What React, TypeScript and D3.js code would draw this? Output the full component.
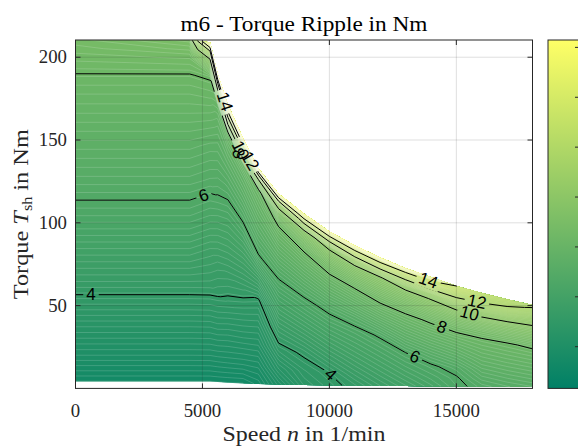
import React from 'react';
import * as d3 from 'd3';

// ---------- data ----------
// operating grid: speed columns (1/min)
const speedGrid = [0, 4500, 5300, 5600, 6000, 6600, 7200, 8000, 9000, 10000, 11000, 12000, 13000, 14000, 15000, 16000, 17000, 18000];
// maximum torque envelope (Nm) at each speed column
const maxTorque = [210.4, 210.4, 209, 190, 171.5, 151, 133, 117.5, 105.5, 94.8, 86.3, 79, 72.6, 67.3, 61.9, 57.6, 53.8, 50.4];
// torque rows as a fraction of the maximum torque
const torqueFraction = [0.02, 0.1, 0.2, 0.3, 0.4, 0.5, 0.6, 0.7, 0.8, 0.85, 0.9, 0.95, 0.975, 1.0];
// torque ripple (Nm): one row per torque fraction, one column per speed
const rippleTable = [
  [1.8, 1.8, 1.8, 1.8, 1.8, 1.8, 2.0, 2.7, 3.5, 3.85, 4.15, 4.6, 5.0, 5.4, 5.85, 6.2, 6.4, 6.55],
  [2.55, 2.55, 2.55, 2.5, 2.45, 2.4, 2.4, 3.2, 3.74, 4.01, 4.49, 4.9, 5.29, 5.63, 5.94, 6.46, 6.65, 6.8],
  [3.4, 3.4, 3.4, 3.3, 3.15, 3.05, 2.95, 3.82, 4.08, 4.53, 4.92, 5.28, 5.64, 5.91, 6.2, 6.8, 6.97, 7.1],
  [4.27, 4.27, 4.26, 4.06, 3.86, 3.64, 3.45, 4.37, 4.67, 5.05, 5.35, 5.66, 6.01, 6.39, 6.7, 7.15, 7.29, 7.41],
  [5.01, 5.01, 4.85, 4.59, 4.4, 4.22, 3.93, 4.98, 5.26, 5.58, 5.78, 6.07, 6.61, 6.94, 7.2, 7.49, 7.61, 7.72],
  [5.75, 5.75, 5.58, 5.25, 5.02, 4.88, 4.88, 5.6, 5.85, 6.15, 6.4, 6.81, 7.21, 7.5, 7.7, 7.84, 7.93, 8.1],
  [6.37, 6.37, 6.24, 5.92, 5.6, 5.54, 5.94, 6.25, 6.57, 6.92, 7.2, 7.56, 7.82, 8.1, 8.36, 8.51, 8.67, 8.83],
  [6.91, 6.91, 6.78, 6.44, 6.22, 6.25, 6.58, 6.98, 7.32, 7.69, 8.01, 8.41, 8.7, 9.05, 9.27, 9.44, 9.5, 9.56],
  [7.45, 7.45, 7.42, 6.93, 6.9, 6.95, 7.2, 7.71, 8.16, 8.8, 9.18, 9.44, 9.7, 10.03, 10.38, 10.59, 10.52, 10.39],
  [7.7, 7.7, 7.75, 7.2, 7.3, 7.3, 7.51, 8.18, 8.97, 9.47, 9.76, 9.95, 10.53, 10.9, 11.33, 11.33, 11.16, 10.82],
  [7.98, 7.98, 8.06, 7.62, 7.8, 7.85, 7.81, 9.2, 9.77, 10.3, 11.09, 11.5, 11.87, 12.31, 12.26, 12.05, 11.81, 11.34],
  [8.3, 8.4, 9.9, 10.05, 11.5, 11.4, 10.05, 10.9, 12.3, 12.73, 13.25, 13.49, 13.45, 13.85, 13.13, 12.67, 12.3, 11.86],
  [8.45, 8.7, 12.03, 12.5, 14.02, 14.05, 12.7, 13.2, 14.3, 14.45, 14.5, 14.5, 14.4, 14.25, 13.57, 12.98, 12.55, 12.05],
  [8.6, 9.0, 17.0, 17.6, 17.8, 17.8, 17.6, 17.3, 17.0, 17.3, 17.5, 17.3, 17.0, 16.0, 14.02, 13.3, 12.8, 12.4],
];

const lineLevels = [4, 6, 8, 10, 12, 14];
const colorLimits = [0.41, 17.87];
const fillLevelCount = 125;
const colorbarTicks = [2.5, 5, 7.5, 10, 12.5, 15, 17.5];
const xTicks = [0, 5000, 10000, 15000];
const yTicks = [50, 100, 150, 200];
const xDomain = [0, 18000];
const yDomain = [0, 210.4];

// contour labels: level and approximate location (speed, torque)
const labelLevels = [4, 6, 14, 8, 10, 12, 14, 12, 10, 8, 6, 4];
const labelSpeed = [610, 5100, 6083, 6516, 6790, 6949, 13878, 15807, 15531, 14429, 13366, 10020];
const labelTorque = [54.6, 114.4, 174.2, 142.8, 146, 138, 64.3, 52.2, 46.2, 37.1, 19.0, 8.15];

type Pt = [number, number];

const W = 578;
const H = 446;
const PLOT = { left: 75.5, right: 532.5, top: 40, bottom: 388.4 };
const CBAR = { left: 548, right: 579, top: 40, bottom: 388.4 };
const SERIF = '"Liberation Serif", "Times New Roman", serif';
const SANS = '"Liberation Sans", Arial, sans-serif';
const AX = '#262626';

export default function App() {
  const x = d3.scaleLinear().domain(xDomain).range([PLOT.left, PLOT.right]);
  const y = d3.scaleLinear().domain(yDomain).range([PLOT.bottom, PLOT.top]);
  const nx = speedGrid.length;
  const ny = torqueFraction.length;
  const values = rippleTable.flat();
  const speedAt = d3.scaleLinear().domain(d3.range(nx)).range(speedGrid);
  const tmaxAt = d3.scaleLinear().domain(d3.range(nx)).range(maxTorque);
  const fracAt = d3.scaleLinear().domain(d3.range(ny)).range(torqueFraction);
  const clamp = (v: number, a: number, b: number) => Math.max(a, Math.min(b, v));
  const proj = (p: number[]): Pt => {
    const fx = clamp(p[0] - 0.5, 0, nx - 1);
    const fy = clamp(p[1] - 0.5, 0, ny - 1);
    return [x(speedAt(fx)), y(fracAt(fy) * tmaxAt(fx))];
  };
  const onBorder = (p: number[]) => p[0] <= 0 || p[0] >= nx || p[1] <= 0 || p[1] >= ny;
  const fmt = (p: Pt) => p[0].toFixed(2) + ',' + p[1].toFixed(2);

  const color = d3
    .scaleLinear<string>()
    .domain(colorLimits)
    .range(['#008066', '#ffff66'])
    .interpolate(d3.interpolateRgb)
    .clamp(true);

  const vMin = d3.min(values) as number;
  const allLevels = d3.range(fillLevelCount).map(
    (i) => colorLimits[0] + (i * (colorLimits[1] - colorLimits[0])) / fillLevelCount
  );
  const baseIdx = Math.max(0, allLevels.filter((l) => l <= vMin).length - 1);
  const fillLevels = allLevels.slice(baseIdx);

  const fills = d3.contours().size([nx, ny]).thresholds(fillLevels)(values);
  const isoContours = d3.contours().size([nx, ny]).thresholds(lineLevels)(values);

  const areaPath = (mp: number[][][][]) =>
    mp
      .map((poly) =>
        poly.map((ring) => ring.map((p, i) => (i ? 'L' : 'M') + fmt(proj(p))).join('') + 'Z').join('')
      )
      .join('');

  const isolines = (mp: number[][][][]): Pt[][] => {
    const out: Pt[][] = [];
    for (const poly of mp)
      for (const ring of poly) {
        let cur: Pt[] | null = null;
        for (let i = 0; i < ring.length - 1; i++) {
          const a = ring[i];
          const b = ring[i + 1];
          if (onBorder(a) || onBorder(b)) {
            cur = null;
            continue;
          }
          if (!cur) {
            cur = [proj(a)];
            out.push(cur);
          }
          cur.push(proj(b));
        }
      }
    return out;
  };
  const linePath = (lines: Pt[][]) =>
    lines.map((pl) => pl.map((p, i) => (i ? 'L' : 'M') + fmt(p)).join('')).join('');

  const lineMap = new Map<number, Pt[][]>();
  isoContours.forEach((c) => lineMap.set(c.value, isolines(c.coordinates as any)));

  const labels = labelLevels.map((lv, k) => {
    const target: Pt = [x(labelSpeed[k]), y(labelTorque[k])];
    const lines = lineMap.get(lv) || [];
    let best = { d: Infinity, p: target as Pt, ang: 0 };
    for (const pl of lines)
      for (let i = 0; i < pl.length - 1; i++) {
        const a = pl[i];
        const b = pl[i + 1];
        const dx = b[0] - a[0];
        const dy = b[1] - a[1];
        const L2 = dx * dx + dy * dy;
        if (L2 === 0) continue;
        const t = clamp(((target[0] - a[0]) * dx + (target[1] - a[1]) * dy) / L2, 0, 1);
        const p: Pt = [a[0] + t * dx, a[1] + t * dy];
        const d = Math.hypot(p[0] - target[0], p[1] - target[1]);
        if (d < best.d) {
          let ang = (Math.atan2(dy, dx) * 180) / Math.PI;
          if (ang > 90) ang -= 180;
          if (ang < -90) ang += 180;
          best = { d, p, ang };
        }
      }
    return { level: lv, p: best.p, ang: best.ang };
  });

  const cy = d3.scaleLinear().domain(colorLimits).range([CBAR.bottom, CBAR.top]);

  return (
    <svg
      width={W}
      height={H}
      viewBox={`0 0 ${W} ${H}`}
      style={{ position: 'absolute', left: 0, top: 0, background: '#fff' }}
    >
      <defs>
        <clipPath id="plotClip">
          <rect x={PLOT.left} y={PLOT.top} width={PLOT.right - PLOT.left} height={PLOT.bottom - PLOT.top} />
        </clipPath>
        <linearGradient id="cbarGrad" x1="0" y1="1" x2="0" y2="0">
          <stop offset="0%" stopColor={color(colorLimits[0])} />
          <stop offset="100%" stopColor={color(colorLimits[1])} />
        </linearGradient>
        <mask id="labelGaps" maskUnits="userSpaceOnUse" x={0} y={0} width={W} height={H}>
          <rect x={0} y={0} width={W} height={H} fill="white" />
          {labels.map((lb, i) => {
            const w = String(lb.level).length * 9.5 + 6;
            return (
              <rect
                key={i}
                x={-w / 2}
                y={-8}
                width={w}
                height={16}
                fill="black"
                transform={`translate(${lb.p[0]},${lb.p[1]}) rotate(${lb.ang})`}
              />
            );
          })}
        </mask>
      </defs>
      <rect x={0} y={0} width={W} height={H} fill="#fff" />

      <g clipPath="url(#plotClip)">
        {fills.map((c, i) => (
          <path key={'f' + i} d={areaPath(c.coordinates as any)} fill={color(c.value)} fillRule="evenodd" />
        ))}
        {fills.slice(1).map((c, i) => (
          <path
            key={'s' + i}
            d={linePath(isolines(c.coordinates as any))}
            fill="none"
            stroke="#ffffff"
            strokeOpacity={0.28}
            strokeWidth={0.6}
          />
        ))}
        {/* grid */}
        {xTicks.slice(1).map((t) => (
          <line key={'gx' + t} x1={x(t)} x2={x(t)} y1={PLOT.top} y2={PLOT.bottom} stroke={AX} strokeOpacity={0.15} strokeWidth={1} />
        ))}
        {yTicks.map((t) => (
          <line key={'gy' + t} x1={PLOT.left} x2={PLOT.right} y1={y(t)} y2={y(t)} stroke={AX} strokeOpacity={0.15} strokeWidth={1} />
        ))}
        <g mask="url(#labelGaps)">
          {isoContours.map((c) => (
            <path key={'l' + c.value} d={linePath(lineMap.get(c.value) || [])} fill="none" stroke="#000" strokeWidth={1} strokeLinejoin="round" />
          ))}
        </g>
        {labels.map((lb, i) => (
          <text
            key={'lb' + i}
            transform={`translate(${lb.p[0]},${lb.p[1]}) rotate(${lb.ang})`}
            textAnchor="middle"
            dominantBaseline="central"
            fontFamily={SANS}
            fontSize={17}
            fill="#000"
          >
            {lb.level}
          </text>
        ))}
      </g>

      {/* axes box and ticks */}
      <rect x={PLOT.left} y={PLOT.top} width={PLOT.right - PLOT.left} height={PLOT.bottom - PLOT.top} fill="none" stroke={AX} strokeWidth={1} />
      {xTicks.map((t) => (
        <g key={'tx' + t}>
          <line x1={x(t)} x2={x(t)} y1={PLOT.bottom} y2={PLOT.bottom - 5} stroke={AX} />
          <line x1={x(t)} x2={x(t)} y1={PLOT.top} y2={PLOT.top + 5} stroke={AX} />
          <text x={x(t)} y={417} textAnchor="middle" fontFamily={SERIF} fontSize={18.8} fill={AX}>
            {t}
          </text>
        </g>
      ))}
      {yTicks.map((t) => (
        <g key={'ty' + t}>
          <line x1={PLOT.left} x2={PLOT.left + 5} y1={y(t)} y2={y(t)} stroke={AX} />
          <line x1={PLOT.right} x2={PLOT.right - 5} y1={y(t)} y2={y(t)} stroke={AX} />
          <text x={67} y={y(t) + 6} textAnchor="end" fontFamily={SERIF} fontSize={18.8} fill={AX}>
            {t}
          </text>
        </g>
      ))}

      {/* colorbar */}
      <rect x={CBAR.left} y={CBAR.top} width={CBAR.right - CBAR.left} height={CBAR.bottom - CBAR.top} fill="url(#cbarGrad)" stroke={AX} strokeWidth={1} />
      {colorbarTicks.map((t) => (
        <line key={'cb' + t} x1={CBAR.right - 4} x2={CBAR.right} y1={cy(t)} y2={cy(t)} stroke={AX} />
      ))}

      {/* titles */}
      <text x={(PLOT.left + PLOT.right) / 2} y={31} textAnchor="middle" fontFamily={SERIF} fontSize={21} textLength={247} lengthAdjust="spacingAndGlyphs" fill="#000">
        m6 - Torque Ripple in Nm
      </text>
      <text x={(PLOT.left + PLOT.right) / 2} y={441} textAnchor="middle" fontFamily={SERIF} fontSize={21} textLength={163} lengthAdjust="spacingAndGlyphs" fill={AX}>
        Speed <tspan fontStyle="italic">n</tspan> in 1/min
      </text>
      <text transform={`translate(28,${(PLOT.top + PLOT.bottom) / 2}) rotate(-90)`} textAnchor="middle" fontFamily={SERIF} fontSize={21} textLength={170} lengthAdjust="spacingAndGlyphs" fill={AX}>
        Torque <tspan fontStyle="italic">T</tspan>
        <tspan fontSize={14} dy={4}>sh</tspan>
        <tspan dy={-4}> in Nm</tspan>
      </text>
    </svg>
  );
}
